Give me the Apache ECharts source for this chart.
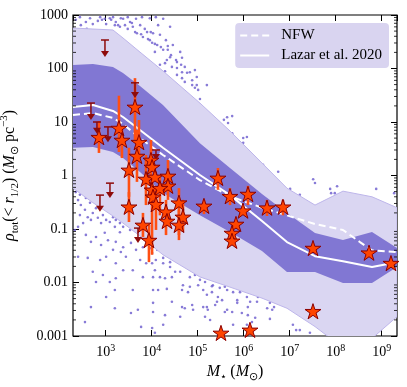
<!DOCTYPE html>
<html>
<head>
<meta charset="utf-8">
<script src="https://cdn.jsdelivr.net/npm/echarts@6/dist/echarts.min.js"></script>
<style>
  html, body { margin: 0; padding: 0; background: #fff; }
  #chart { width: 407px; height: 387px; }
</style>
</head>
<body>
<div id="chart"></div>
<script>
// stellar mass grid of the simulated bands (M_sun)
var bandMass = [195, 530, 1440, 2380, 5570, 17600, 112000, 504000, 2.5e6, 8.73e6, 3.55e7, 1.44e8, 6.15e8, 2.15e9];
// density bands (M_sun pc^-3)
var outerLow  = [0.58, 0.31, 0.175, 0.129, 0.074, 0.033, 0.0127, 0.0082, 0.0051, 0.0033, 0.0015, 0.0006, 0.0009, 0.0023];
var outerHigh = [571, 547, 525, 372, 203, 90, 22.6, 6.8, 1.71, 0.58, 0.28, 0.51, 0.40, 0.25];
var innerLow  = [3.3, 3.4, 2.75, 2.12, 1.16, 0.47, 0.18, 0.088, 0.039, 0.0157, 0.0157, 0.0098, 0.0098, 0.0195];
var innerHigh = [116, 121, 107, 82, 47, 20.8, 4.0, 1.38, 0.45, 0.20, 0.084, 0.062, 0.088, 0.044];
// median relations
var lazarRho = [19.1, 20.8, 16.1, 12.4, 7.1, 3.3, 1.02, 0.43, 0.141, 0.057, 0.031, 0.025, 0.0195, 0.024];
var nfwMass = [195, 530, 1440, 2380, 5570, 17600, 112000, 504000, 2.5e6, 8.73e6, 3.55e7, 1.44e8, 3.37e8, 6.15e8, 2.15e9];
var nfwRho  = [13.5, 14.7, 11.9, 9.2, 5.0, 2.42, 0.82, 0.41, 0.25, 0.18, 0.124, 0.096, 0.057, 0.040, 0.037];

// observed dwarfs (stars) with error bar ends (null = no bar)
var starMass = [715, 1945, 2260, 3210, 4340, 5300, 4790, 9660, 10200, 7520, 11800, 22600, 22600, 10200, 15100, 10700, 12400, 3210, 20500, 39200, 21500, 47900, 39200, 6470, 8730, 276000, 137000, 504000, 1.24e6, 9.66e5, 6.8e5, 5.57e5, 5.57e5, 3.21e6, 7.14e6, 3.21e7, 5.3e8, 1.59e9, 3.21e7, 3.21e5, 1.37e6];
var starRho  = [5.2, 7.7, 4.6, 1.27, 19.1, 4.2, 2.31, 1.95, 1.44, 0.86, 0.94, 0.98, 0.64, 0.54, 0.58, 0.40, 0.29, 0.26, 0.21, 0.31, 0.141, 0.168, 0.119, 0.119, 0.062, 0.90, 0.27, 0.41, 0.45, 0.22, 0.124, 0.084, 0.060, 0.25, 0.26, 0.044, 0.036, 0.023, 0.0029, 0.00114, 0.0013];
var starLo   = [2.64, 2.75, 2.12, 0.40, 4.6, 1.95, 0.76, 0.82, null, 0.28, null, 0.35, null, 0.033, 0.18, null, 0.096, 0.135, 0.077, 0.077, null, 0.088, 0.062, 0.071, 0.024, 0.54, 0.19, 0.28, 0.28, null, null, null, null, 0.175, 0.18, null, null, null, null, null, null];
var starHi   = [10.4, 31, 7.1, 3.3, 66, 10.9, 7.1, 4.6, null, 2.42, null, 1.95, null, 0.82, 1.02, null, 0.43, 0.49, 0.35, 0.58, null, 0.35, 0.23, 0.20, 0.119, 1.38, 0.35, 0.58, 0.64, null, null, null, null, 0.35, 0.35, null, null, null, null, null, null];

// upper limits: mass, cap value, arrow tip value
var limitMass = [966, 479, 647, 1122, 4340, 1240, 752, 5040, 12400];
var limitTop  = [341, 22.6, 10, 8.1, 54, 0.72, 0.43, 0.104, 3.0];
var limitTip  = [164, 10.9, 6.0, 4.2, 28, 0.38, 0.21, 0.055, 1.95];

// simulated galaxies outside the bands, [log10 M, log10 rho]
var dotsUpper = [[2.35,2.91],[2.46,2.81],[2.57,2.87],[2.72,2.83],[2.83,2.89],[2.98,2.93],[3.01,2.83],[3.12,2.91],[3.20,2.81],[3.22,2.87],[3.31,2.78],[3.38,2.93],[3.42,2.81],[3.48,2.74],[3.53,2.87],[3.59,2.78],[3.64,2.68],[3.66,2.93],[3.75,2.81],[3.77,2.64],[3.85,2.74],[3.92,2.55],[3.98,2.68],[4.07,2.46],[4.14,2.81],[4.18,2.63],[4.20,2.40],[4.25,2.93],[4.31,2.53],[4.35,2.35],[4.42,2.25],[4.46,2.44],[4.53,2.16],[4.62,2.31],[4.64,2.07],[4.40,2.78],
  [2.92,2.91],[3.09,2.94],[3.27,2.81],[3.57,2.85],[3.68,2.66],[3.81,2.59],[3.90,2.68],[3.96,2.53],[4.03,2.66],[4.12,2.44],[4.25,2.35],[4.40,2.21],[4.55,2.12],[4.66,2.20],[4.72,2.03],[4.83,1.93],[4.94,1.97],[4.98,1.84],
  [2.44,2.96],[2.66,2.94],[2.88,2.96],[3.16,2.96],[3.33,2.94],[3.48,2.96],[3.79,2.96],[3.96,2.94],[4.09,2.96],[2.59,2.74],
  [4.01,2.48],[4.07,2.31],[4.18,2.07],[4.29,2.10],[4.33,2.16],[4.35,2.42],[4.44,2.03],[4.29,1.95],[4.55,2.01],[4.55,1.88],[4.66,1.93],[4.77,1.92],[4.66,1.82],[4.72,1.75],[4.88,1.78],[4.88,1.69],[4.98,1.69],[4.94,1.64],[5.01,1.60],[5.20,1.69],[5.05,1.43],[5.64,1.09],[5.75,1.11],[5.57,1.04],[5.66,0.98],[5.75,0.79],[5.99,0.70],[6.07,0.72],[5.99,0.61],
  [6.42,0.20],[6.51,0.10],[6.75,0.07],[7.01,-0.25],[7.22,-0.36],[7.51,-0.07],[7.55,-0.14],[7.88,-0.25],[7.90,-0.33],[7.98,-0.33],[8.03,-0.20],[8.88,-0.25],[9.27,-0.33]];
var dotsLower = [[2.35,-0.31],[2.44,-0.36],[2.51,-0.33],[2.40,-0.46],[2.46,-0.55],[2.57,-0.42],[2.66,-0.51],[2.55,-0.64],[2.44,-0.74],[2.61,-0.78],[2.72,-0.70],[2.79,-0.61],[2.68,-0.83],[2.83,-0.79],[2.94,-0.74],[3.01,-0.83],[2.90,-0.89],[3.09,-0.87],[3.16,-0.78],[3.22,-0.83],[3.31,-0.89],[3.20,-0.96],[3.38,-0.96],[3.44,-0.87],[3.53,-1.02],[3.31,-1.06],[3.59,-0.98],[2.51,-0.89],[2.40,-0.96],[2.33,-1.02],[2.57,-1.11],[2.79,-1.15],[2.98,-1.07],[3.05,-1.21],[2.68,-1.24],[2.90,-1.30],[3.22,-1.24],[3.38,-1.34],[3.55,-1.26],[3.16,-1.39],[3.33,-1.43],[3.66,-1.39],[3.81,-1.34],[3.96,-1.36],[3.01,-1.52],[3.44,-1.52],[2.61,-1.54],[2.40,-1.52],[2.88,-1.58],[3.22,-1.64],[3.75,-1.58],[3.88,-1.64],[4.09,-1.58],[3.59,-1.77],[3.38,-1.77],[2.94,-1.86],[2.72,-1.80],[4.07,-1.77],[3.81,-1.90],[3.22,-1.92],[2.79,-1.99],[3.09,-1.99],[3.20,-2.14],[3.59,-2.14],[4.03,-2.14],[3.01,-2.27],[2.55,-2.74],[2.68,-2.46],[3.20,-2.48],[3.55,-2.57],[3.70,-2.51],[4.03,-2.38],[4.03,-2.55],[3.77,-2.83],[4.07,-2.94],
  [4.01,-1.45],[4.12,-1.39],[4.25,-1.54],[4.01,-1.64],[4.25,-1.64],[4.40,-1.62],[4.40,-1.71],[4.51,-1.80],[4.62,-1.80],[4.03,-1.90],[4.18,-1.90],[4.29,-1.92],[4.44,-1.90],[4.83,-1.90],[4.94,-1.86],[5.05,-1.95],[5.16,-1.99],[4.68,-2.05],[4.83,-2.08],[5.01,-2.05],[5.31,-2.07],[5.48,-2.10],[5.64,-2.14],[5.77,-2.18],[5.92,-2.18],[4.14,-2.14],[4.33,-2.12],[4.66,-2.14],[4.79,-2.18],[5.12,-2.14],[5.31,-2.18],[5.44,-2.27],[5.86,-2.33],[6.07,-2.27],[6.29,-2.36],[4.44,-2.36],[4.66,-2.46],[4.72,-2.48],[4.88,-2.42],[5.20,-2.46],[5.22,-2.51],[5.42,-2.36],[5.53,-2.33],[5.64,-2.51],[5.75,-2.55],[5.96,-2.57],[6.09,-2.61],[6.25,-2.66],[4.29,-2.61],[4.62,-2.64],[4.90,-2.51],[5.77,-2.79],[6.18,-2.74],[4.25,-2.79],[4.01,-2.85],
  [5.33,-2.05],[5.59,-2.08],[5.20,-2.23],[6.14,-2.36],[6.31,-2.27],[5.12,-2.46],[5.38,-2.42],[5.86,-2.38],[6.09,-2.46],[6.51,-2.48],[5.16,-2.64],[5.27,-2.70],[5.59,-2.55],[6.62,-2.51],[6.07,-2.79],[7.07,-2.79],[7.22,-2.89],[7.44,-2.94],[6.57,-2.38],[6.66,-2.46],[6.57,-2.68],[7.14,-2.89]];

var FONT = 'Liberation Serif';
var massMin = 195, massMax = 2.15e9;
var STAR = 'path://M100,0L122.45,69.1L195.1,69.1L136.3,111.8L158.8,180.9L100,138.2L41.2,180.9L63.7,111.8L4.9,69.1L77.55,69.1Z';

var chart = echarts.init(document.getElementById('chart'));

function pairs(xs, ys) {
  return xs.map(function (x, i) { return [x, ys[i]]; });
}
function fromLog(list) {
  return list.map(function (p) { return [Math.pow(10, p[0]), Math.pow(10, p[1])]; });
}

var dots = fromLog(dotsUpper.concat(dotsLower));
var errData = [];
starMass.forEach(function (m, i) {
  if (starLo[i] != null) errData.push([m, starLo[i], starHi[i]]);
});
var limitData = limitMass.map(function (m, i) { return [m, limitTop[i], limitTip[i]]; });
var minorTicks = [];
for (var k = -3; k < 3; k++) {
  for (var m = 2; m < 10; m++) minorTicks.push([massMin, m * Math.pow(10, k)]);
}

// filled band between two curves, drawn as one polygon through the axes
function bandSeries(name, low, high, fill, stroke, z) {
  return {
    type: 'custom', name: name, data: [[bandMass[0], low[0]]], encode: { x: 0, y: 1 },
    clip: true, silent: true, z: z,
    renderItem: function (params, api) {
      var pts = [];
      for (var i = 0; i < bandMass.length; i++) pts.push(api.coord([bandMass[i], high[i]]));
      for (var j = bandMass.length - 1; j >= 0; j--) pts.push(api.coord([bandMass[j], low[j]]));
      var cs = params.coordSys;
      return {
        type: 'group',
        clipPath: { type: 'rect', shape: { x: cs.x, y: cs.y, width: cs.width, height: cs.height } },
        children: [{ type: 'polygon', shape: { points: pts },
          style: { fill: fill, stroke: stroke, lineWidth: stroke ? 1 : 0 } }]
      };
    }
  };
}

var richText = {
  n: { fontFamily: FONT, fontSize: 16, lineHeight: 22, verticalAlign: 'middle', color: '#000' },
  i: { fontFamily: FONT, fontSize: 16, lineHeight: 22, fontStyle: 'italic', verticalAlign: 'middle', color: '#000' },
  s: { fontFamily: FONT, fontSize: 11, lineHeight: 11, verticalAlign: 'bottom', color: '#000' },
  p: { fontFamily: FONT, fontSize: 11, lineHeight: 11, verticalAlign: 'top', color: '#000' }
};

function tickAxis(extra) {
  return Object.assign({
    type: 'log', logBase: 10,
    axisLine: { show: false },
    axisTick: { show: true, inside: true, length: 6, lineStyle: { color: '#000', width: 1 } },
    splitLine: { show: false }
  }, extra);
}

var option = {
  animation: false,
  grid: {
    left: 73, right: 10, top: 15, bottom: 51, outerBoundsMode: 'none', containLabel: false,
    show: true, borderColor: '#000', borderWidth: 1.2, backgroundColor: 'transparent'
  },
  legend: {
    data: [
      { name: 'NFW', icon: 'path://M0,0H7V2H0Z M11,0H18V2H11Z M22,0H29V2H22Z' },
      { name: 'Lazar et al. 2020', icon: 'path://M0,0H29V2H0Z' }
    ],
    orient: 'vertical', right: 18, top: 23,
    itemWidth: 31, itemHeight: 2, itemGap: 5,
    padding: [5, 7, 5, 5],
    backgroundColor: '#d9d4f0', borderRadius: 4,
    textStyle: { fontFamily: FONT, fontSize: 15, color: '#000', padding: [0, 0, 0, 6] }
  },
  xAxis: [
    tickAxis({
      min: massMin, max: massMax, position: 'bottom',
      name: '{i|M}{s|⋆} {n|(}{i|M}{s|⊙}{n|)}', nameLocation: 'middle', nameGap: 24,
      nameTextStyle: { rich: richText },
      axisLabel: {
        margin: 7, showMinLabel: false, showMaxLabel: false,
        formatter: function (v) { return '{b|10}{e|' + Math.round(Math.log10(v)) + '}'; },
        rich: {
          b: { fontFamily: FONT, fontSize: 14, lineHeight: 18, verticalAlign: 'middle', color: '#000' },
          e: { fontFamily: FONT, fontSize: 10, lineHeight: 10, verticalAlign: 'top', color: '#000' }
        }
      }
    }),
    tickAxis({ min: massMin, max: massMax, position: 'top', axisLabel: { show: false } })
  ],
  yAxis: [
    tickAxis({
      min: 0.001, max: 1000, position: 'left',
      name: '{i|ρ}{s|tot}{n|(< }{i|r}{s|1/2}{n|) (}{i|M}{s|⊙}{n| pc}{p|−3}{n|)}',
      nameLocation: 'middle', nameGap: 52, nameRotate: 90,
      nameTextStyle: { rich: richText },
      axisLabel: {
        margin: 5, fontFamily: FONT, fontSize: 14, color: '#000',
        formatter: function (v) { return v >= 1 ? String(Math.round(v)) : v.toPrecision(1); }
      }
    }),
    tickAxis({ min: 0.001, max: 1000, position: 'right', axisLabel: { show: false } })
  ],
  series: [
    {
      type: 'scatter', name: 'sims', data: dots, symbolSize: 2.6,
      itemStyle: { color: '#6a5acd' }, silent: true, z: 1
    },
    bandSeries('outer', outerLow, outerHigh, '#dad6f2', '#bdb5ea', 2),
    bandSeries('inner', innerLow, innerHigh, '#8177d3', null, 3),
    {
      type: 'line', name: 'NFW', data: pairs(nfwMass, nfwRho), symbol: 'none',
      lineStyle: { color: '#fff', width: 2, type: [7, 4] }, itemStyle: { color: '#fff' }, z: 4
    },
    {
      type: 'line', name: 'Lazar et al. 2020', data: pairs(bandMass, lazarRho), symbol: 'none',
      lineStyle: { color: '#fff', width: 2 }, itemStyle: { color: '#fff' }, z: 4
    },
    {
      type: 'custom', name: 'errors', data: errData, encode: { x: 0, y: [1, 2] }, z: 5,
      renderItem: function (params, api) {
        var lo = api.coord([api.value(0), api.value(1)]);
        var hi = api.coord([api.value(0), api.value(2)]);
        return { type: 'line', shape: { x1: lo[0], y1: lo[1], x2: hi[0], y2: hi[1] },
          style: { stroke: '#ff4f12', lineWidth: 2.6 } };
      }
    },
    {
      type: 'custom', name: 'limits', data: limitData, encode: { x: 0, y: [1, 2] }, z: 6,
      renderItem: function (params, api) {
        var top = api.coord([api.value(0), api.value(1)]);
        var tip = api.coord([api.value(0), api.value(2)]);
        var c = '#8e0a0a';
        return { type: 'group', children: [
          { type: 'line', shape: { x1: top[0] - 4, y1: top[1], x2: top[0] + 4, y2: top[1] }, style: { stroke: c, lineWidth: 1.5 } },
          { type: 'line', shape: { x1: top[0], y1: top[1], x2: tip[0], y2: tip[1] - 5 }, style: { stroke: c, lineWidth: 1.5 } },
          { type: 'polygon', shape: { points: [[tip[0] - 4, tip[1] - 6], [tip[0] + 4, tip[1] - 6], [tip[0], tip[1]]] }, style: { fill: c } }
        ] };
      }
    },
    {
      type: 'scatter', name: 'dwarfs', data: pairs(starMass, starRho),
      symbol: STAR, symbolSize: 16, symbolKeepAspect: true,
      itemStyle: { color: '#ff4500', borderColor: '#8b0000', borderWidth: 1, opacity: 1 }, z: 7
    },
    {
      type: 'custom', name: 'minorTicks', data: minorTicks, encode: { x: 0, y: 1 }, silent: true, z: 8,
      renderItem: function (params, api) {
        var y = api.coord([api.value(0), api.value(1)])[1];
        var cs = params.coordSys;
        return { type: 'group', children: [
          { type: 'line', shape: { x1: cs.x, y1: y, x2: cs.x + 3, y2: y }, style: { stroke: '#000', lineWidth: 0.8 } },
          { type: 'line', shape: { x1: cs.x + cs.width, y1: y, x2: cs.x + cs.width - 3, y2: y }, style: { stroke: '#000', lineWidth: 0.8 } }
        ] };
      }
    }
  ]
};

chart.setOption(option);
</script>
</body>
</html>
